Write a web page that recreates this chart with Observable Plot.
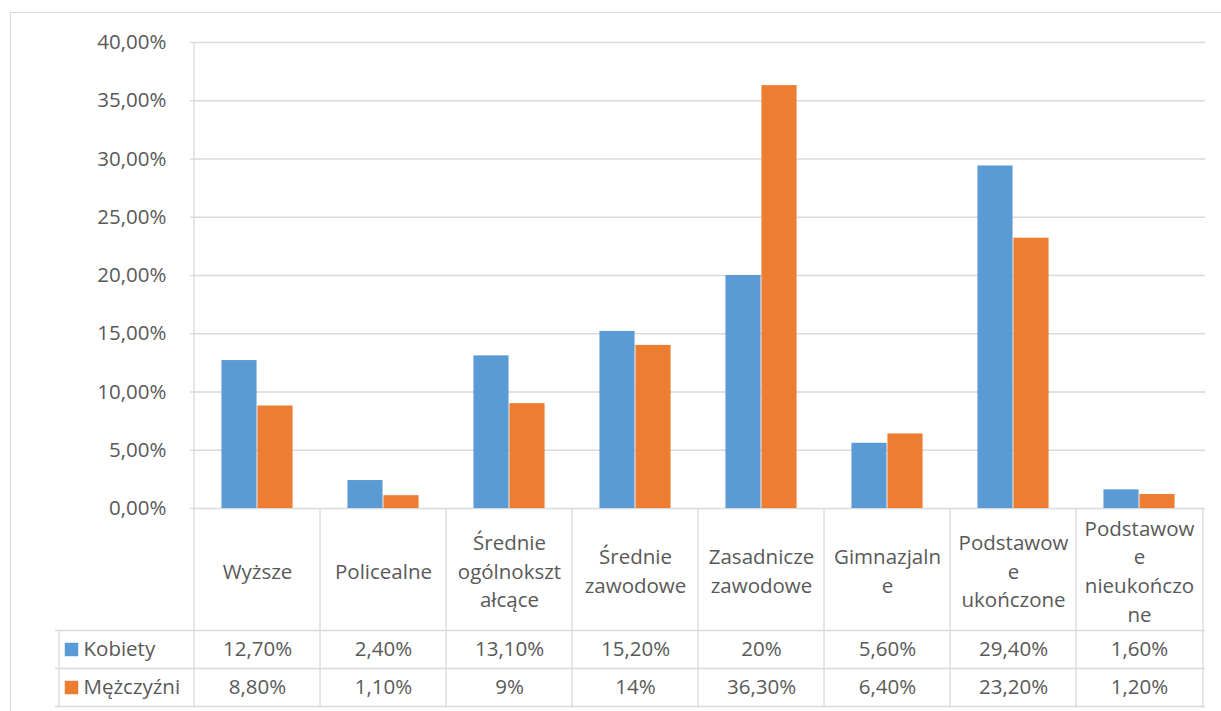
<!DOCTYPE html>
<html>
<head>
<meta charset="utf-8">
<script src="https://cdn.jsdelivr.net/npm/d3@7"></script>
<script src="https://cdn.jsdelivr.net/npm/@observablehq/plot@0.6"></script>
<style>
  html, body { margin: 0; padding: 0; background: #fff; }
  #wrap { position: relative; width: 1221px; height: 711px; overflow: hidden; }
  #border { position: absolute; left: 10px; top: 12px; right: -5px; bottom: -5px;
            border-left: 1.5px solid #d9d9d9; border-top: 1.5px solid #d9d9d9; }
  #chart { position: absolute; left: 0; top: 0; }
</style>
</head>
<body>
<div id="wrap"><div id="border"></div><div id="chart"></div></div>
<script>
const categories = ["Wyższe", "Policealne", "Średnie ogólnokształcące", "Średnie zawodowe", "Zasadnicze zawodowe", "Gimnazjalne", "Podstawowe ukończone", "Podstawowe nieukończone"];
const categoryTickLabels = ["Wyższe", "Policealne", "Średnie\nogólnokszt\nałcące", "Średnie\nzawodowe", "Zasadnicze\nzawodowe", "Gimnazjaln\ne", "Podstawow\ne\nukończone", "Podstawow\ne\nnieukończo\nne"];
const series = ["Kobiety", "Mężczyźni"];
const kobiety = [12.7, 2.4, 13.1, 15.2, 20, 5.6, 29.4, 1.6];
const mezczyzni = [8.8, 1.1, 9, 14, 36.3, 6.4, 23.2, 1.2];
const yTicks = [0, 5, 10, 15, 20, 25, 30, 35, 40];
const colors = ["#5B9BD5", "#ED7D31"];

const rows = [];
categories.forEach((c, i) => {
  rows.push({category: c, series: series[0], value: kobiety[i]});
  rows.push({category: c, series: series[1], value: mezczyzni[i]});
});

const W = 1221, H = 711;
const mL = 190, mR = 16, mT = 42, mB = 203;
const bw = (W - mL - mR) / categories.length;
const barW = 36;
const plotH = H - mT - mB;     // plot area height
const labelRowH = 122, rowH = 38;
const tableH = labelRowH + 2 * rowH;
const legendW = 135;
const textColor = "#595959";
const lineColor = "#d9d9d9";
const font = "'Open Sans', sans-serif";
const fs = 20.5;

const pct = v => Number.isInteger(v) ? v + "%" : v.toFixed(2).replace(".", ",") + "%";
const txt = {fill: textColor, fontSize: fs, lineAnchor: "middle"};

const chart = Plot.plot({
  width: W, height: H,
  marginLeft: mL, marginRight: mR, marginTop: mT, marginBottom: mB,
  style: {fontFamily: font, fontSize: fs + "px", color: textColor, background: "transparent"},
  x: {type: "band", domain: categories, padding: 0, axis: null},
  y: {domain: [0, 40], axis: null},
  color: {domain: series, range: colors},
  marks: [
    Plot.gridY(yTicks, {stroke: lineColor, strokeOpacity: 1, strokeWidth: 1.3}),
    Plot.axisY(yTicks, {label: null, tickSize: 0, tickPadding: 24, tickFormat: d => d.toFixed(2).replace(".", ",") + "%", fill: textColor, fontSize: fs}),
    // bars
    Plot.barY(rows.filter(d => d.series === series[0]), {x: "category", y: "value", fill: colors[0], insetLeft: bw / 2 - barW, insetRight: bw / 2}),
    Plot.barY(rows.filter(d => d.series === series[1]), {x: "category", y: "value", fill: colors[1], insetLeft: bw / 2, insetRight: bw / 2 - barW}),
    // table lines
    Plot.ruleX([categories[0]], {x: d => d, dx: -bw / 2, insetBottom: -tableH, stroke: lineColor, strokeWidth: 1.3}),
    Plot.ruleX(categories.slice(1), {x: d => d, dx: -bw / 2, insetTop: plotH, insetBottom: -tableH, stroke: lineColor, strokeWidth: 1.3}),
    Plot.ruleX([categories[categories.length - 1]], {x: d => d, dx: bw / 2, insetTop: plotH, insetBottom: -tableH, stroke: lineColor, strokeWidth: 1.3}),
    Plot.ruleX([categories[0]], {x: d => d, dx: -bw / 2 - legendW, insetTop: plotH + labelRowH, insetBottom: -tableH, stroke: lineColor, strokeWidth: 1.3}),
    Plot.ruleY([0], {dy: labelRowH, insetLeft: -legendW, stroke: lineColor, strokeWidth: 1.3}),
    Plot.ruleY([0], {dy: labelRowH + rowH, insetLeft: -legendW, stroke: lineColor, strokeWidth: 1.3}),
    Plot.ruleY([0], {dy: tableH, insetLeft: -legendW, stroke: lineColor, strokeWidth: 1.3}),
    // category labels
    Plot.text(categories, {x: d => d, text: (d, i) => categoryTickLabels[i], frameAnchor: "bottom", dy: labelRowH / 2, lineHeight: 1.4, ...txt}),
    // values
    Plot.text(rows.filter(d => d.series === series[0]), {x: "category", text: d => pct(d.value), frameAnchor: "bottom", dy: labelRowH + rowH / 2, ...txt}),
    Plot.text(rows.filter(d => d.series === series[1]), {x: "category", text: d => pct(d.value), frameAnchor: "bottom", dy: labelRowH + rowH * 1.5, ...txt}),
    // legend keys
    Plot.dot([series[0]], {frameAnchor: "bottom-left", dx: -119, dy: labelRowH + rowH / 2, symbol: "square", r: 7.6, fill: colors[0]}),
    Plot.dot([series[1]], {frameAnchor: "bottom-left", dx: -119, dy: labelRowH + rowH * 1.5, symbol: "square", r: 7.6, fill: colors[1]}),
    Plot.text([series[0]], {text: d => d, frameAnchor: "bottom-left", dx: -107, dy: labelRowH + rowH / 2, textAnchor: "start", ...txt}),
    Plot.text([series[1]], {text: d => d, frameAnchor: "bottom-left", dx: -107, dy: labelRowH + rowH * 1.5, textAnchor: "start", ...txt})
  ]
});
document.getElementById("chart").appendChild(chart);
</script>
</body>
</html>
